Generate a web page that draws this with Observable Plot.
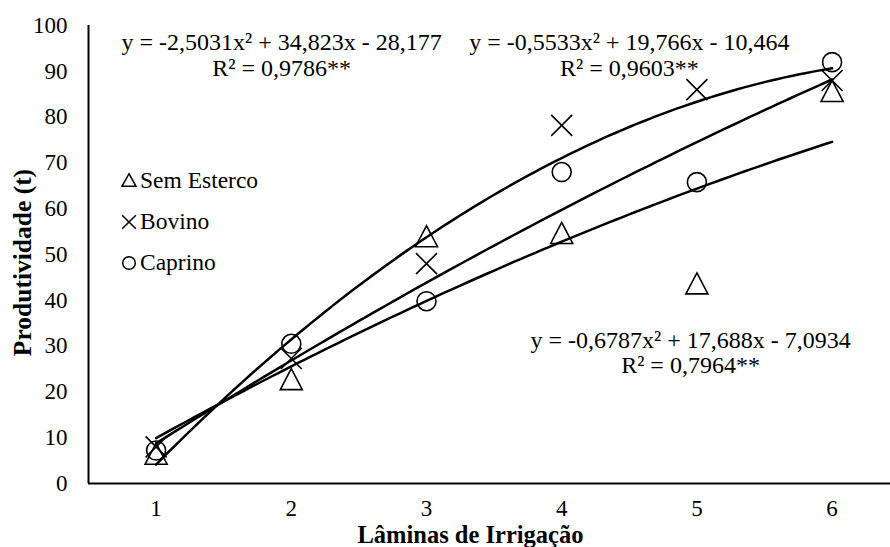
<!DOCTYPE html>
<html>
<head>
<meta charset="utf-8">
<script src="https://cdn.jsdelivr.net/npm/d3@7"></script>
<script src="https://cdn.jsdelivr.net/npm/@observablehq/plot@0.6"></script>
<style>
  html, body { margin: 0; padding: 0; background: #fff; }
  #wrap { position: relative; width: 890px; height: 547px; }
  #overlay { position: absolute; left: 0; top: 0; pointer-events: none; }
</style>
</head>
<body>
<div id="wrap"><div id="chart"></div></div>
<script>
// ---- data ----
const laminas = [1, 2, 3, 4, 5, 6];
const semEsterco = [6.5, 22.8, 54.0, 54.7, 43.7, 85.7];
const bovino = [8.0, 27.3, 48.0, 78.2, 86.0, 88.0];
const caprino = [7.2, 30.5, 39.8, 68.0, 65.8, 92.0];
const seriesNames = ["Sem Esterco", "Bovino", "Caprino"];
// quadratic trendlines printed on the chart: y = a x² + b x + c
const coefA = [-2.5031, -0.5533, -0.6787];
const coefB = [34.823, 19.766, 17.688];
const coefC = [-28.177, -10.464, -7.0934];
const eqLabels = ["y = -2,5031x² + 34,823x - 28,177", "y = -0,5533x² + 19,766x - 10,464", "y = -0,6787x² + 17,688x - 7,0934"];
const r2Labels = ["R² = 0,9786**", "R² = 0,9603**", "R² = 0,7964**"];
const yTicks = [0, 10, 20, 30, 40, 50, 60, 70, 80, 90, 100];

// ---- layout (annotation anchor positions in data units) ----
const eqPos = [
  {x: 1.928, y1: 96.4, y2: 90.7},
  {x: 4.501, y1: 96.4, y2: 90.6},
  {x: 4.953, y1: 31.3, y2: 25.7}
];

const FONT = "Liberation Serif, Times New Roman, serif";

// custom symbols
const triSym = {draw(ctx) { ctx.moveTo(0, -10.5); ctx.lineTo(11, 10.5); ctx.lineTo(-11, 10.5); ctx.closePath(); }};
const timesSym = {draw(ctx) { ctx.moveTo(-10.5, -10.5); ctx.lineTo(10.5, 10.5); ctx.moveTo(10.5, -10.5); ctx.lineTo(-10.5, 10.5); }};

const pts = (vals) => laminas.map((x, i) => ({x, y: vals[i]}));

const curves = [];
coefA.forEach((a, k) => {
  for (let i = 0; i <= 100; i++) {
    const x = 1 + i * 0.05;
    curves.push({k, x, y: a * x * x + coefB[k] * x + coefC[k]});
  }
});

const ann = [];
eqPos.forEach((p, k) => {
  ann.push({x: p.x, y: p.y1, t: eqLabels[k]});
  ann.push({x: p.x, y: p.y2, t: r2Labels[k]});
});

const chart = Plot.plot({
  width: 890,
  height: 547,
  marginLeft: 88,
  marginRight: 0,
  marginTop: 25,
  marginBottom: 64,
  style: {fontFamily: FONT, color: "#000", background: "#fff", overflow: "visible"},
  x: {domain: [0.5, 6.432]},
  y: {domain: [0, 100]},
  marks: [
    Plot.axisY({ticks: yTicks, tickSize: 0, tickPadding: 21, fontSize: 23, label: null}),
    Plot.axisX({ticks: laminas, tickSize: 0, tickPadding: 16.5, fontSize: 23, label: null, tickFormat: d => d}),
    Plot.ruleY([0], {stroke: "#000", strokeWidth: 2}),
    Plot.ruleX([0.5], {stroke: "#000", strokeWidth: 2}),
    Plot.line(curves, {x: "x", y: "y", z: "k", stroke: "#000", strokeWidth: 2.5, curve: "linear"}),
    Plot.dot(pts(semEsterco), {x: "x", y: "y", symbol: triSym, r: 10, stroke: "#000", strokeWidth: 1.6, fill: "none"}),
    Plot.dot(pts(bovino), {x: "x", y: "y", symbol: timesSym, r: 10, stroke: "#000", strokeWidth: 1.6, fill: "none"}),
    Plot.dot(pts(caprino), {x: "x", y: "y", symbol: "circle", r: 9.5, stroke: "#000", strokeWidth: 1.6, fill: "none"}),
    Plot.text(ann, {x: "x", y: "y", text: "t", fontSize: 24, fill: "#000", textAnchor: "middle", lineAnchor: "middle"}),
    Plot.text(["Lâminas de Irrigação"], {frameAnchor: "bottom", textAnchor: "middle", lineAnchor: "middle", dy: 52, dx: -19, fontSize: 24.5, fontWeight: "bold", fill: "#000"}),
    Plot.text(["Produtividade (t)"], {frameAnchor: "left", textAnchor: "middle", lineAnchor: "middle", dx: -66, dy: 8, rotate: -90, fontSize: 25.5, fontWeight: "bold", fill: "#000"})
  ]
});
document.getElementById("chart").appendChild(chart);

// ---- legend overlay ----
const legendRows = [
  {name: seriesNames[0], cy: 180, base: 188, sym: "tri"},
  {name: seriesNames[1], cy: 222, base: 229, sym: "x"},
  {name: seriesNames[2], cy: 263, base: 270, sym: "o"}
];
const ov = d3.select("#wrap").append("svg").attr("id", "overlay").attr("width", 890).attr("height", 547);
legendRows.forEach(r => {
  const g = ov.append("g").attr("transform", `translate(129,${r.cy})`).attr("fill", "none").attr("stroke", "#000").attr("stroke-width", 1.5);
  if (r.sym === "tri") g.append("path").attr("d", "M0,-6.3L7,6.3L-7,6.3Z");
  if (r.sym === "x") g.append("path").attr("d", "M-6.8,-6.8L6.8,6.8M6.8,-6.8L-6.8,6.8");
  if (r.sym === "o") g.append("circle").attr("r", 6.3);
  ov.append("text").attr("x", 140).attr("y", r.base).attr("font-family", FONT).attr("font-size", 23.5).attr("fill", "#000").text(r.name);
});
</script>
</body>
</html>
